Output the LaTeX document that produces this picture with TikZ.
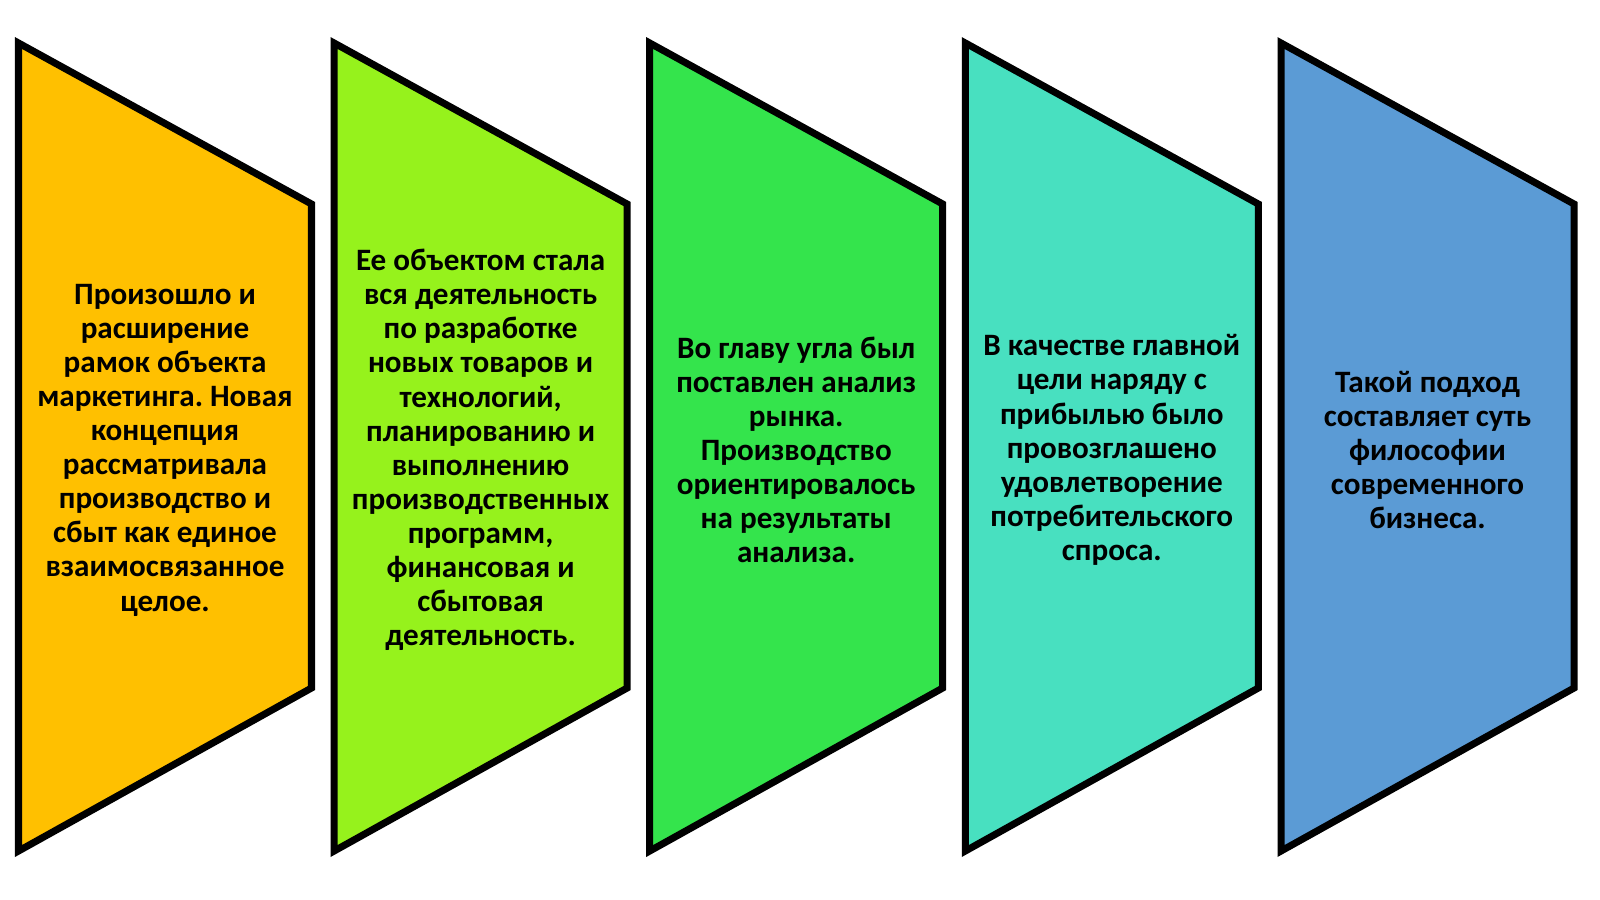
\documentclass[tikz,border=0pt]{standalone}
\usepackage{fontspec}
\setmainfont{Carlito}
\usepackage{tikz}
\usetikzlibrary{positioning,calc}
\definecolor{cgold}{RGB}{255,192,0}
\definecolor{clime}{RGB}{150,242,28}
\definecolor{cgreen}{RGB}{52,228,76}
\definecolor{cteal}{RGB}{72,224,192}
\definecolor{cblue}{RGB}{91,155,213}
\frenchspacing
\tikzset{
  panel/.style={draw=black,line width=2pt},
  paneltext/.style={align=center,text=black,font=\bfseries\fontsize{8.85pt}{9.7pt}\selectfont}
}

\begin{document}
\begin{tikzpicture}[x=0.01cm,y=-0.01cm]
\useasboundingbox (0,0) rectangle (1600,899);
% panel 1
\draw[panel,fill=cgold] (18.5,43) -- (311.5,204) -- (311.5,688) -- (18.5,851) -- cycle;
\node[paneltext] (t1) at (165,450) {Произошло и\\расширение\\рамок объекта\\маркетинга. Новая\\концепция\\рассматривала\\производство и\\сбыт как единое\\взаимосвязанное\\целое.};
% panel 2
\draw[panel,fill=clime] (334.1,43) -- (627.1,204) -- (627.1,688) -- (334.1,851) -- cycle;
\node[paneltext] (t2) at (480.6,450) {Ее объектом стала\\вся деятельность\\по разработке\\новых товаров и\\технологий,\\планированию и\\выполнению\\производственных\\программ,\\финансовая и\\сбытовая\\деятельность.};
% panel 3
\draw[panel,fill=cgreen] (649.7,43) -- (942.7,204) -- (942.7,688) -- (649.7,851) -- cycle;
\node[paneltext] (t3) at (796.2,450) {Во главу угла был\\поставлен анализ\\рынка.\\Производство\\ориентировалось\\на результаты\\анализа.};
% panel 4
\draw[panel,fill=cteal] (965.3,43) -- (1258.3,204) -- (1258.3,688) -- (965.3,851) -- cycle;
\node[paneltext] (t4) at (1111.8,450) {В качестве главной\\цели наряду с\\прибылью было\\провозглашено\\удовлетворение\\потребительского\\спроса.};
% panel 5
\draw[panel,fill=cblue] (1281,43) -- (1574,204) -- (1574,688) -- (1281,851) -- cycle;
\node[paneltext] (t5) at (1427.5,450) {Такой подход\\составляет суть\\философии\\современного\\бизнеса.};
\end{tikzpicture}
\end{document}
